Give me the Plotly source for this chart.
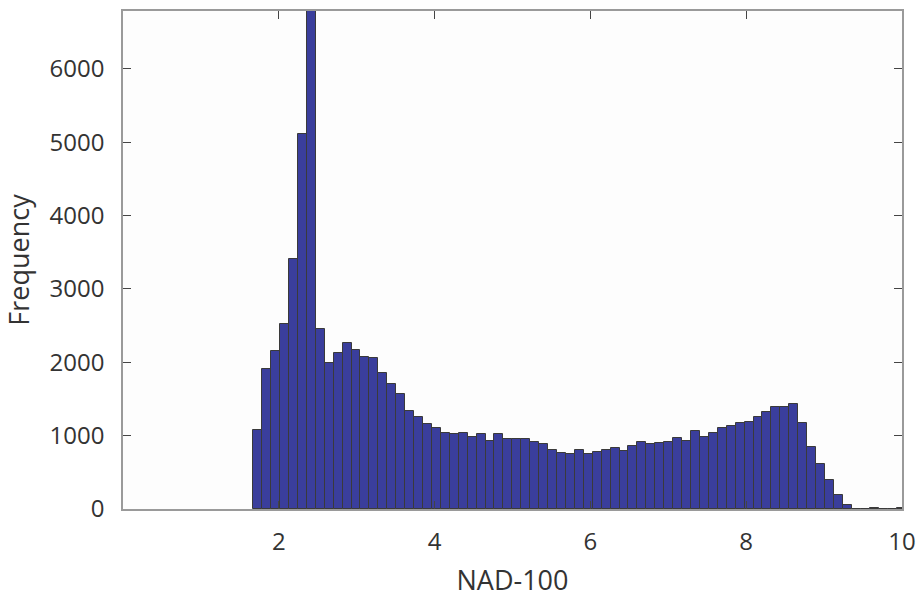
import plotly.graph_objects as go

# Histogram data
bin_start = 1.6717
bin_width = 0.11469
counts = [1082, 1913, 2148, 2516, 3411, 5119, 7400, 2457, 1994, 2121,
          2262, 2162, 2071, 2062, 1858, 1708, 1563, 1331, 1259, 1163,
          1109, 1040, 1022, 1040, 986, 1027, 931, 1027, 959, 959,
          959, 918, 891, 804, 759, 754, 809, 754, 782, 809,
          827, 795, 863, 913, 886, 904, 920, 972, 931, 1068,
          977, 1031, 1109, 1127, 1168, 1186, 1254, 1322, 1386, 1395,
          1426, 1177, 845, 614, 391, 185, 50, 5, 3, 15,
          4, 6, 15]
x_ticks = [2, 4, 6, 8, 10]
y_ticks = [0, 1000, 2000, 3000, 4000, 5000, 6000]

centers = [bin_start + bin_width * (i + 0.5) for i in range(len(counts))]

fig = go.Figure(go.Bar(
    x=centers, y=counts, width=bin_width,
    marker=dict(color="rgb(58,62,156)", line=dict(color="#3a3a3a", width=1)),
    hoverinfo="skip",
))

font_family = "Open Sans"
axis_common = dict(
    showline=True, linecolor="#9a9a9a", linewidth=1.5, mirror="ticks",
    ticks="inside", ticklen=8, tickcolor="#444", tickwidth=1,
    showgrid=False, zeroline=False, automargin=False,
    tickfont=dict(family=font_family, size=24, color="#333"),
)

fig.update_layout(
    width=916, height=601,
    margin=dict(l=123, r=14, t=11, b=92),
    paper_bgcolor="white", plot_bgcolor="#fdfdfd",
    bargap=0, showlegend=False,
    xaxis=dict(range=[0, 10], tickvals=x_ticks, ticktext=[str(v) for v in x_ticks],
               title=dict(text="NAD-100", font=dict(family=font_family, size=27, color="#333"), standoff=16),
               ticklabelstandoff=10, **axis_common),
    yaxis=dict(range=[0, 6790], tickvals=y_ticks, ticktext=[str(v) for v in y_ticks],
               title=dict(text="Frequency", font=dict(family=font_family, size=27, color="#333"), standoff=14),
               ticklabelstandoff=12, **axis_common),
)

fig.write_html("out.html",
               config={"displayModeBar": False},
               post_script="document.body.style.margin='0';document.body.style.overflow='hidden';")
